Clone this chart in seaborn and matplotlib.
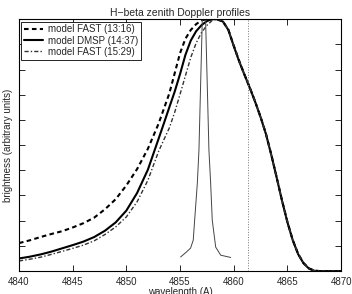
import numpy as np
import matplotlib
matplotlib.use('agg')
import matplotlib.pyplot as plt
import seaborn as sns

# normalised H-beta zenith profiles
wl_fast1316 = [4840, 4841, 4842, 4843, 4844, 4845, 4846, 4847, 4848, 4849,
               4850, 4851, 4852, 4853, 4854, 4855, 4855.5, 4856, 4856.5, 4857,
               4857.5, 4858, 4858.5, 4859, 4859.5, 4860, 4860.5, 4861, 4861.5, 4862,
               4862.5, 4863, 4863.5, 4864, 4864.5, 4865, 4865.5, 4866, 4866.5, 4867,
               4867.5, 4868, 4869, 4870]
br_fast1316 = [0.111, 0.122, 0.135, 0.147, 0.158, 0.173, 0.190, 0.212, 0.245, 0.285,
               0.340, 0.405, 0.485, 0.585, 0.705, 0.865, 0.922, 0.957, 0.980, 0.995,
               1.000, 1.000, 0.998, 0.990, 0.958, 0.895, 0.835, 0.780, 0.728, 0.672,
               0.612, 0.545, 0.462, 0.372, 0.280, 0.195, 0.123, 0.068, 0.032, 0.011,
               0.002, 0.0, 0.0, 0.0]

wl_dmsp1437 = [4840, 4841, 4842, 4843, 4844, 4845, 4846, 4847, 4848, 4849,
               4850, 4851, 4852, 4853, 4853.5, 4854, 4854.5, 4855, 4855.5, 4856,
               4856.5, 4857, 4857.5, 4858, 4858.5, 4859, 4859.5, 4860, 4860.5, 4861,
               4861.5, 4862, 4862.5, 4863, 4863.5, 4864, 4864.5, 4865, 4865.5, 4866,
               4866.5, 4867, 4867.5, 4868, 4869, 4870]
br_dmsp1437 = [0.050, 0.057, 0.066, 0.077, 0.090, 0.103, 0.117, 0.135, 0.160, 0.193,
               0.240, 0.310, 0.402, 0.525, 0.587, 0.650, 0.712, 0.782, 0.858, 0.915,
               0.952, 0.976, 0.992, 1.000, 1.000, 0.990, 0.957, 0.893, 0.833, 0.779,
               0.727, 0.671, 0.611, 0.544, 0.461, 0.371, 0.279, 0.194, 0.122, 0.067,
               0.031, 0.010, 0.001, 0.0, 0.0, 0.0]

wl_fast1529 = [4840, 4841, 4842, 4843, 4844, 4845, 4846, 4847, 4848, 4849,
               4850, 4851, 4852, 4853, 4853.5, 4854, 4854.5, 4855, 4855.5, 4856,
               4856.5, 4857, 4857.5, 4858, 4858.5, 4859, 4859.5, 4860, 4860.5, 4861,
               4861.5, 4862, 4862.5, 4863, 4863.5, 4864, 4864.5, 4865, 4865.5, 4866,
               4866.5, 4867, 4867.5, 4868, 4869, 4870]
br_fast1529 = [0.040, 0.047, 0.055, 0.066, 0.078, 0.090, 0.103, 0.120, 0.145, 0.175,
               0.215, 0.275, 0.360, 0.475, 0.522, 0.568, 0.630, 0.702, 0.775, 0.848,
               0.905, 0.947, 0.975, 0.995, 1.000, 0.991, 0.958, 0.894, 0.834, 0.780,
               0.728, 0.672, 0.612, 0.545, 0.462, 0.372, 0.280, 0.195, 0.123, 0.068,
               0.032, 0.011, 0.002, 0.0, 0.0, 0.0]

# instrument / unshifted reference profile (thin line)
wl_instr = [4855.05, 4855.5, 4855.98, 4856.23, 4856.36, 4856.61, 4856.76, 4857.07,
            4857.2, 4857.38, 4857.69, 4857.85, 4858.0, 4858.32, 4858.79, 4859.72]
br_instr = [0.056, 0.072, 0.091, 0.123, 0.202, 0.349, 0.480, 0.996,
            1.000, 0.996, 0.480, 0.349, 0.202, 0.095, 0.063, 0.054]

h_beta = 4861.33
xticks = [4840, 4845, 4850, 4855, 4860, 4865, 4870]
yticks = [0.0, 0.1, 0.2, 0.3, 0.4, 0.5, 0.6, 0.7, 0.8, 0.9, 1.0]


sns.set_style("ticks", {"xtick.direction": "in", "ytick.direction": "in",
                        "axes.edgecolor": "black"})
plt.rcParams['font.family'] = ['Liberation Sans', 'DejaVu Sans']

fig = plt.figure(figsize=(3.52, 2.94), dpi=100)
ax = fig.add_axes([0.054, 0.078, 0.915, 0.857])

sns.lineplot(x=wl_fast1316, y=br_fast1316, ax=ax, color='black', lw=1.5,
             linestyle=(0, (2.2, 1.6)), label='model FAST (13:16)')
sns.lineplot(x=wl_dmsp1437, y=br_dmsp1437, ax=ax, color='black', lw=1.5,
             linestyle='-', label='model DMSP (14:37)')
sns.lineplot(x=wl_fast1529, y=br_fast1529, ax=ax, color='#333333', lw=1.0,
             linestyle=(0, (3, 1.5, 1, 1.5)), label='model FAST (15:29)')
sns.lineplot(x=wl_instr, y=br_instr, ax=ax, color='#444444', lw=0.7)
ax.axvline(h_beta, color='#777777', lw=0.7, linestyle=':')

ax.set_xlim(4840, 4870)
ax.set_ylim(0, 1)
ax.set_xticks(xticks)
ax.set_yticks(yticks)
ax.set_yticklabels([])
ax.tick_params(axis='both', which='both', direction='in', top=True, right=True,
               length=4, width=0.7, labelsize=7, pad=4)
for s in ax.spines.values():
    s.set_linewidth(0.8)
    s.set_color('black')

ax.set_title("H\u2212beta zenith Doppler profiles", fontsize=7.5, pad=2)
ax.set_xlabel("wavelength (A)", fontsize=7, labelpad=0)
ax.set_ylabel("brightness (arbitrary units)", fontsize=7, labelpad=0)

leg = ax.legend(loc='upper left', fontsize=7, frameon=True, fancybox=False,
                edgecolor='black', framealpha=1, borderaxespad=0.25,
                handlelength=1.9, handletextpad=0.5, labelspacing=0.12,
                borderpad=0.3)
leg.get_frame().set_linewidth(0.6)

fig.savefig("out.png", dpi=100)
